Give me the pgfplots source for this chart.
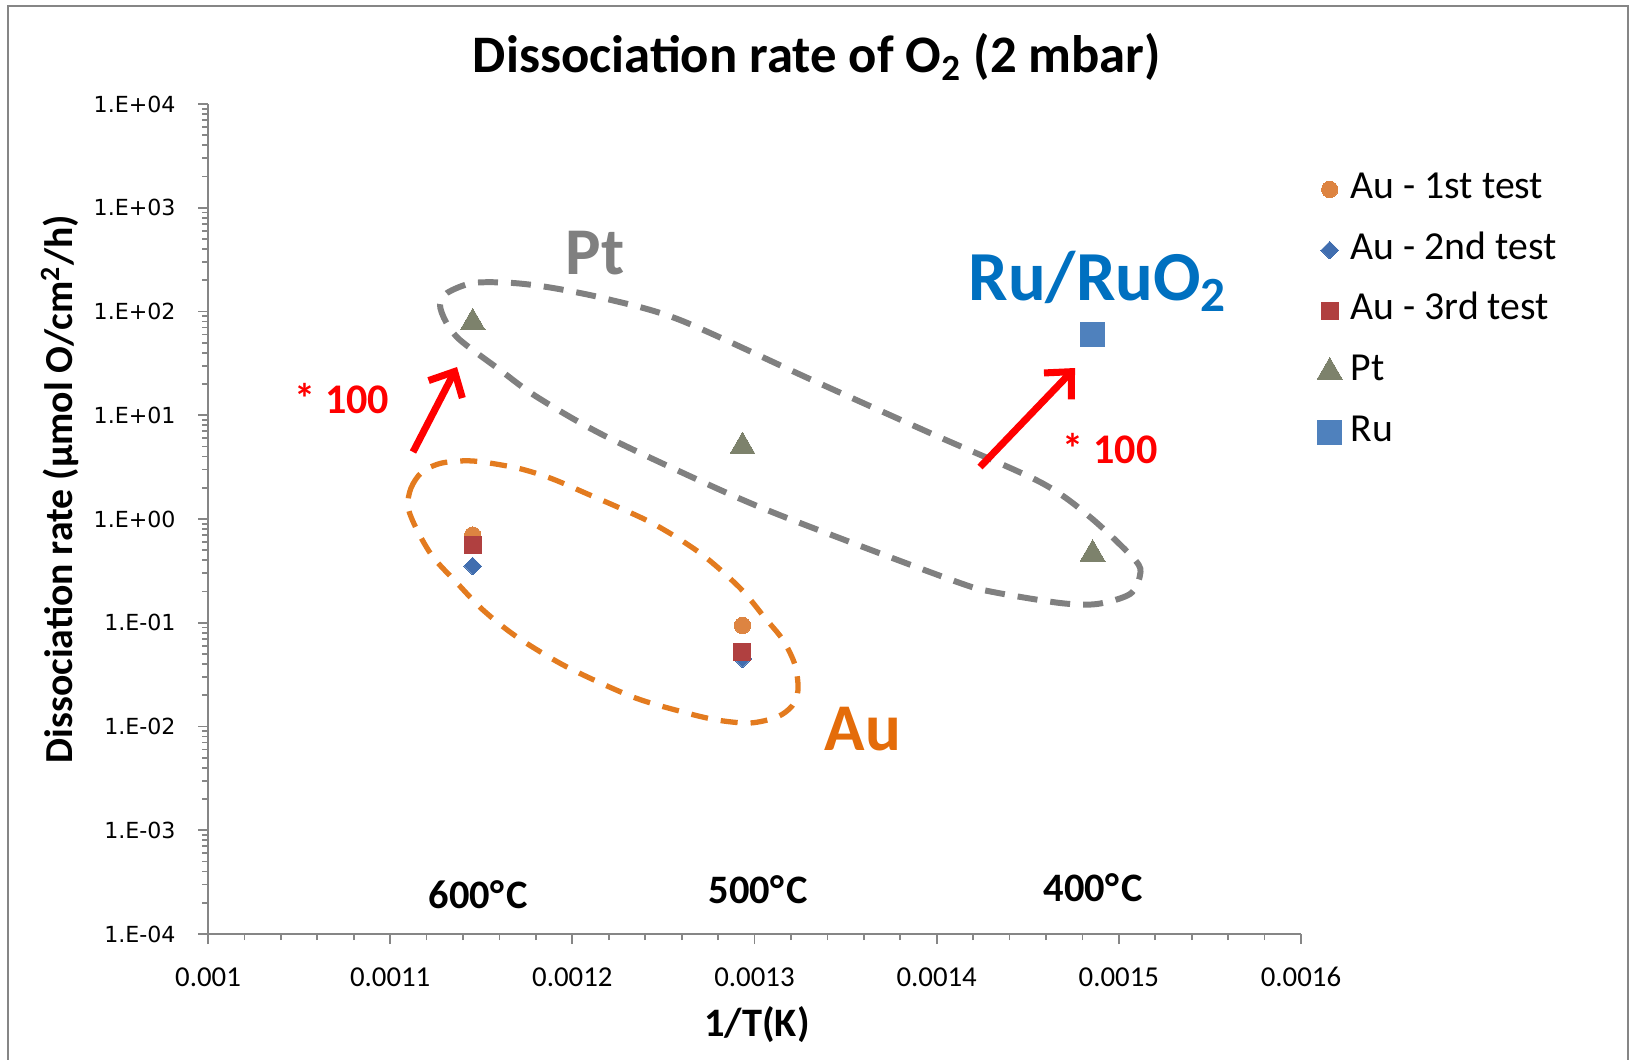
\documentclass[border=0pt]{standalone}
\usepackage{fontspec}
\setmainfont{Carlito}
\newfontfamily\dejavu{DejaVu Sans}
\usepackage{pgfplots}
\pgfplotsset{compat=1.18}
\usetikzlibrary{arrows.meta}
\definecolor{axisgray}{RGB}{134,134,134}
\definecolor{auone}{RGB}{221,132,65}
\definecolor{autwo}{RGB}{65,110,175}
\definecolor{authree}{RGB}{176,64,64}
\definecolor{ptcol}{RGB}{125,130,108}
\definecolor{rucol}{RGB}{79,129,189}
\definecolor{ellgray}{RGB}{128,128,128}
\definecolor{ellorange}{RGB}{227,123,31}
\definecolor{auorange}{RGB}{228,108,10}
\definecolor{rublue}{RGB}{0,112,192}
\begin{document}
\begin{tikzpicture}
\useasboundingbox (0,0) rectangle (163.2mm,105.9mm);
\begin{scope}[x=0.1mm,y=-0.1mm,yshift=105.9mm]
\draw[axisgray,line width=0.8pt] (8,1080) -- (8,6) -- (1628,6) -- (1628,1080);
% Pt region
\draw[ellgray,line width=1.7pt,dash pattern=on 2mm off 1.3mm]
 plot[smooth cycle] coordinates {(440,305) (447,293) (473,283) (513,283) (553,288) (607,299) (680,320) (812,380) (930,433) (1040,482) (1090,517) (1135,560) (1140,575) (1130,594) (1097,604) (1060,603) (993,592) (960,583) (850,542) (743,500) (607,437) (537,397) (500,370) (460,340) (446,322)};
% Au region
\draw[ellorange,line width=1.5pt,dash pattern=on 1.7mm off 1.3mm]
 plot[smooth cycle] coordinates {(408,507) (411,488) (422,472) (442,463) (473,461) (517,468) (550,478) (583,492) (650,522) (700,553) (740,588) (765,618) (783,640) (795,665) (798,690) (792,706) (777,717) (750,723) (717,720) (683,712) (633,697) (567,667) (517,637) (483,610) (457,583) (433,557) (417,530)};
\end{scope}
\begin{axis}[at={(20.8mm,12.5mm)}, anchor=south west, scale only axis,
  width=109.3mm, height=83mm,
  xmin=0.001, xmax=0.0016, ymode=log, ymin=1e-4, ymax=1e4,
  scaled x ticks=false,
  axis lines*=left, axis line style={draw=axisgray,line width=0.6pt,-},
  xtick={0.001,0.0011,0.0012,0.0013,0.0014,0.0015,0.0016},
  xticklabels={0.001,0.0011,0.0012,0.0013,0.0014,0.0015,0.0016},
  minor x tick num=4,
  ytick={1e-4,1e-3,1e-2,1e-1,1,1e1,1e2,1e3,1e4},
  yticklabels={1.E-04,1.E-03,1.E-02,1.E-01,1.E+00,1.E+01,1.E+02,1.E+03,1.E+04},
  tick align=outside, tick style={axisgray,line width=0.5pt},
  major tick length=1mm, minor tick length=0.6mm,
  xticklabel style={font=\fontsize{8.2}{10}\selectfont, yshift=-1.1mm},
  yticklabel style={font=\dejavu\fontsize{6.3}{8}\selectfont, xshift=-1mm},
  legend image code/.code={\path[draw=none,fill=none] (-1.5mm,-1mm) rectangle (1.5mm,1mm); \draw[#1] plot coordinates {(0mm,0mm)};},
  legend style={at={(1.0119,0.9170)}, anchor=north west, draw=none, fill=none,
    inner sep=0pt, font=\fontsize{11.3}{13}\selectfont, row sep=8.3pt, column sep=0.6mm,
    nodes={inner sep=0pt, text height=7pt, text depth=2pt}},
  legend cell align=left,
]
\addplot[only marks, color=auone, mark=*, mark size=0.82mm, mark options={solid,draw=auone,fill=auone,line width=0pt}]
 coordinates {(0.0011453,0.70) (0.0012934,0.094)};
\addlegendentry{Au - 1st test}
\addplot[only marks, color=autwo, mark=square*, mark size=0.62mm, mark options={solid,rotate=45,draw=autwo,fill=autwo,line width=0pt}]
 coordinates {(0.0011453,0.352) (0.0012934,0.0448)};
\addlegendentry{Au - 2nd test}
\addplot[only marks, color=authree, mark=square*, mark size=0.85mm, mark options={solid,draw=authree,fill=authree,line width=0pt}]
 coordinates {(0.0011453,0.56) (0.0012934,0.0528)};
\addlegendentry{Au - 3rd test}
\addplot[only marks, color=ptcol, mark=triangle*, mark size=1.44mm, mark options={solid,draw=ptcol,fill=ptcol,line width=0pt}]
 coordinates {(0.0011453,78) (0.0012934,5.0) (0.0014856,0.46)};
\addlegendentry{Pt}
\addplot[only marks, color=rucol, mark=square*, mark size=1.2mm, mark options={solid,draw=rucol,fill=rucol,line width=0pt}]
 coordinates {(0.0014856,60)};
\addlegendentry{Ru}
\end{axis}
\begin{scope}[x=0.1mm,y=-0.1mm,yshift=105.9mm]
\node at (817,57) {\fontsize{15}{18}\selectfont\bfseries Dissociation rate of O\textsubscript{2} (2 mbar)};
\node[rotate=90] at (60,489) {\fontsize{11.3}{13}\selectfont\bfseries Dissociation rate (µmol O/cm\textsuperscript{2}/h)};
\node at (757,1025) {\fontsize{11.5}{13}\selectfont\bfseries 1/T(K)};
\node[text=ellgray] at (595,253) {\fontsize{19}{22}\selectfont\bfseries Pt};
\node[text=rublue] at (1098,281) {\fontsize{20}{23}\selectfont\bfseries Ru/RuO\textsubscript{2}};
\node[text=auorange] at (863,729) {\fontsize{19}{22}\selectfont\bfseries Au};
\node[text=red] at (342,399) {\fontsize{12}{14}\selectfont\bfseries * 100};
\node[text=red] at (1110,449) {\fontsize{12}{14}\selectfont\bfseries * 100};
\node at (478,895) {\fontsize{11.5}{13}\selectfont\bfseries 600°\kern0.6pt C};
\node at (758,890) {\fontsize{11.5}{13}\selectfont\bfseries 500°\kern0.6pt C};
\node at (1093,888) {\fontsize{11.5}{13}\selectfont\bfseries 400°\kern0.6pt C};
\draw[red,line width=2pt,-{Straight Barb[length=2mm,width=3.8mm]}] (413,452) -- (457,367);
\draw[red,line width=2pt,-{Straight Barb[length=2mm,width=3.8mm]}] (980,467) -- (1075,368);
\end{scope}
\end{tikzpicture}
\end{document}
